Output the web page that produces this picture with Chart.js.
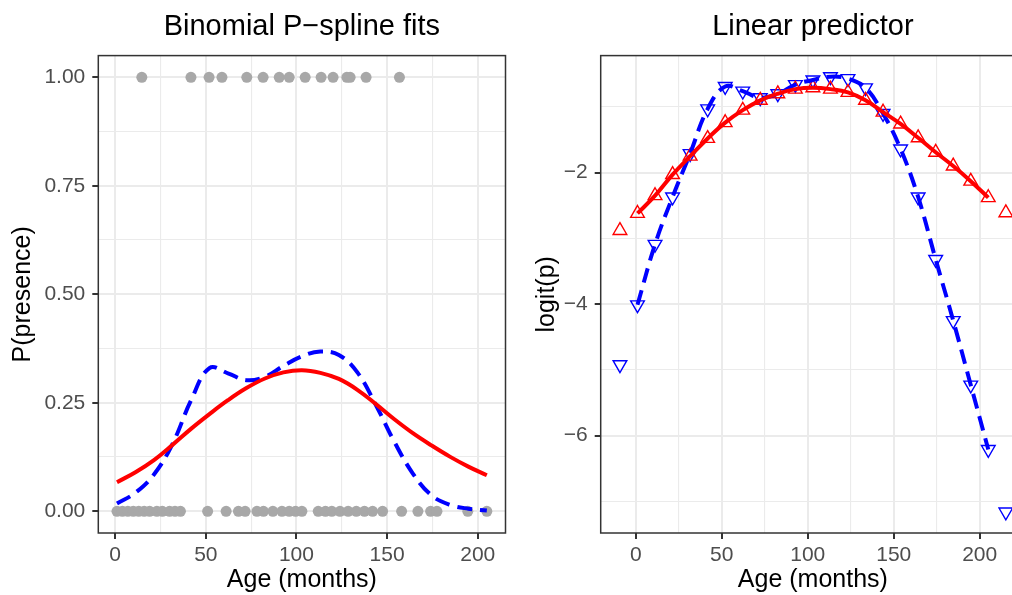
<!DOCTYPE html>
<html>
<head>
<meta charset="utf-8">
<script src="https://cdn.jsdelivr.net/npm/chart.js@4/dist/chart.umd.min.js"></script>
<style>
  html, body { margin: 0; padding: 0; background: #fff; overflow: hidden; width: 1012px; height: 595px; }
  .panel { position: absolute; top: 0; width: 520px; height: 595px; }
  #left { left: 0; }
  #right { left: 520px; }
</style>
</head>
<body>
<div class="panel" id="left"><canvas id="fitChart" width="520" height="595"></canvas></div>
<div class="panel" id="right"><canvas id="linChart" width="520" height="595"></canvas></div>
<script>
// ---- data ----
// observed presence (1) / absence (0) by age in months
const presentAges = [14.7, 41.8, 51.8, 58.9, 72.6, 81.6, 90.5, 96, 104.8, 113.6, 120.2, 127.8, 129.6, 138.4, 156.8];
const absentAges = [1, 4, 7, 10, 13, 16, 19, 23, 26, 30, 33, 36, 51, 61.2, 68, 71.7, 78.2, 81.8, 87,
  92, 96, 99.5, 103, 112, 116, 119.5, 124, 128.5, 133, 137.5, 142, 147.5, 158, 167, 174, 177.5, 194.5, 205];

// fitted probabilities (left panel)
const fitAges = [1, 11.2, 21.4, 31.6, 41.8, 52, 62.2, 72.4, 82.6, 92.8, 103, 113.2, 123.4, 133.6, 143.8, 154, 164.2, 174.4, 184.6, 194.8, 205];
const pSmooth = [0.067, 0.09, 0.118, 0.153, 0.19, 0.224, 0.256, 0.284, 0.306, 0.32, 0.325, 0.319, 0.305, 0.28, 0.247, 0.212, 0.18, 0.152, 0.126, 0.103, 0.083];
const pFlex = [0.018, 0.043, 0.085, 0.155, 0.255, 0.33, 0.318, 0.302, 0.31, 0.335, 0.357, 0.368, 0.36, 0.32, 0.245, 0.16, 0.087, 0.037, 0.015, 0.006, 0.002];

// linear predictor on the prediction grid (right panel)
const gridAges = [-9.2, 1, 11.2, 21.4, 31.6, 41.8, 52, 62.2, 72.4, 82.6, 92.8, 103, 113.2, 123.4, 133.6, 143.8, 154, 164.2, 174.4, 184.6, 194.8, 205, 215.2];
const etaSmooth = [-2.88, -2.62, -2.35, -2.03, -1.75, -1.48, -1.24, -1.05, -0.90, -0.80, -0.73, -0.71, -0.73, -0.78, -0.90, -1.08, -1.26, -1.47, -1.69, -1.90, -2.13, -2.38, -2.61];
const etaFlex = [-4.92, -4.01, -3.09, -2.37, -1.71, -1.03, -0.69, -0.76, -0.86, -0.80, -0.66, -0.59, -0.54, -0.57, -0.71, -1.10, -1.64, -2.37, -3.32, -4.25, -5.23, -6.21, -7.16];

// ticks
const fitAgeTicks = [0, 50, 100, 150, 200];
const fitAgeMinor = [25, 75, 125, 175];
const probTicks = [0, 0.25, 0.5, 0.75, 1];
const probMinor = [0.125, 0.375, 0.625, 0.875];
const linAgeTicks = [0, 50, 100, 150, 200];
const linAgeMinor = [25, 75, 125, 175, 225];
const logitTicks = [-6, -4, -2];
const logitMinor = [-7, -5, -3, -1];

Chart.defaults.font.family = '"Liberation Sans", Arial, sans-serif';

const RED = '#ff0000';
const BLUE = '#0000ff';
const GREY = '#a8a8a8';

// ggplot-like axis: major + minor grid lines, ticks only on majors
function axis({ min, max, major, minor, size, title, titlePad, pad, fmt }) {
  const all = major.concat(minor).sort((a, b) => a - b);
  const isMajor = c => c.tick && major.includes(c.tick.value);
  return {
    type: 'linear',
    min, max,
    afterBuildTicks: s => { s.ticks = all.map(v => ({ value: v })); },
    afterFit: s => { if (s.isHorizontal()) s.height = size; else s.width = size; },
    grid: {
      color: '#ebebeb',
      lineWidth: c => isMajor(c) ? 2 : 1.1,
      drawTicks: true,
      tickLength: 6,
      tickWidth: 2,
      tickColor: c => isMajor(c) ? '#333333' : 'rgba(0,0,0,0)'
    },
    border: { display: false },
    ticks: {
      autoSkip: false,
      maxRotation: 0,
      padding: pad,
      color: '#4d4d4d',
      font: { size: 21 },
      callback: v => major.includes(v) ? fmt(v) : ''
    },
    title: { display: true, text: title, color: '#000', font: { size: 25 }, padding: titlePad }
  };
}

// panel border drawn on top, like theme_bw
const panelBorder = {
  id: 'panelBorder',
  afterDraw(chart) {
    const { ctx, chartArea: a } = chart;
    ctx.save();
    ctx.strokeStyle = '#333333';
    ctx.lineWidth = 1.5;
    ctx.strokeRect(a.left, a.top, a.right - a.left, a.bottom - a.top);
    ctx.restore();
  }
};

function titleOpts(text) {
  return {
    display: true, text, fullSize: false, color: '#000',
    font: { size: 29, weight: 'normal' },
    padding: { top: 10, bottom: 10.8 }
  };
}

const pts = (xs, ys) => xs.map((x, i) => ({ x, y: ys[i] }));

// left: fitted probabilities
new Chart(document.getElementById('fitChart'), {
  type: 'scatter',
  data: {
    datasets: [
      { data: pts(fitAges, pSmooth), showLine: true, borderColor: RED, borderWidth: 4, pointRadius: 0, tension: 0.4 },
      { data: pts(fitAges, pFlex), showLine: true, borderColor: BLUE, borderWidth: 4, borderDash: [15, 8], pointRadius: 0, tension: 0.4 },
      { data: presentAges.map(x => ({ x, y: 1 })), pointRadius: 5.5, backgroundColor: GREY, borderWidth: 0 },
      { data: absentAges.map(x => ({ x, y: 0 })), pointRadius: 5.5, backgroundColor: GREY, borderWidth: 0 }
    ]
  },
  options: {
    responsive: false,
    animation: false,
    layout: { padding: { left: 0, right: 14.5, top: 0, bottom: 0 } },
    plugins: { legend: { display: false }, tooltip: { enabled: false }, title: titleOpts('Binomial P\u2212spline fits') },
    scales: {
      x: axis({ min: -9.3, max: 215.3, major: fitAgeTicks, minor: fitAgeMinor, size: 62, title: 'Age (months)',
        titlePad: { top: 0, bottom: 0 }, pad: 4, fmt: v => String(v) }),
      y: axis({ min: -0.05, max: 1.05, major: probTicks, minor: probMinor, size: 98.3, title: 'P(presence)',
        titlePad: { top: 8.5, bottom: 0 }, pad: 7, fmt: v => v.toFixed(2) })
    }
  },
  plugins: [panelBorder]
});

// right: linear predictor
new Chart(document.getElementById('linChart'), {
  type: 'scatter',
  data: {
    datasets: [
      { data: pts(gridAges.slice(1, 22), etaSmooth.slice(1, 22)), showLine: true, borderColor: RED, borderWidth: 4, pointRadius: 0, tension: 0.4 },
      { data: pts(gridAges.slice(1, 22), etaFlex.slice(1, 22)), showLine: true, borderColor: BLUE, borderWidth: 4, borderDash: [15, 8], pointRadius: 0, tension: 0.4 },
      { data: pts(gridAges, etaSmooth), pointStyle: 'triangle', pointRadius: 7.9, borderColor: RED, backgroundColor: 'rgba(0,0,0,0)', borderWidth: 1.4 },
      { data: pts(gridAges, etaFlex), pointStyle: 'triangle', rotation: 180, pointRadius: 7.9, borderColor: BLUE, backgroundColor: 'rgba(0,0,0,0)', borderWidth: 1.4 }
    ]
  },
  options: {
    responsive: false,
    animation: false,
    layout: { padding: { left: 0, right: 14.9, top: 0, bottom: 0 } },
    plugins: { legend: { display: false }, tooltip: { enabled: false }, title: titleOpts('Linear predictor') },
    scales: {
      x: axis({ min: -20.4, max: 226.4, major: linAgeTicks, minor: linAgeMinor, size: 62, title: 'Age (months)',
        titlePad: { top: 0, bottom: 0 }, pad: 4, fmt: v => String(v) }),
      y: axis({ min: -7.48, max: -0.22, major: logitTicks, minor: logitMinor, size: 80.7, title: 'logit(p)',
        titlePad: { top: 12.5, bottom: 0 }, pad: 7, fmt: v => '\u2212' + Math.abs(v) })
    }
  },
  plugins: [panelBorder]
});
</script>
</body>
</html>
